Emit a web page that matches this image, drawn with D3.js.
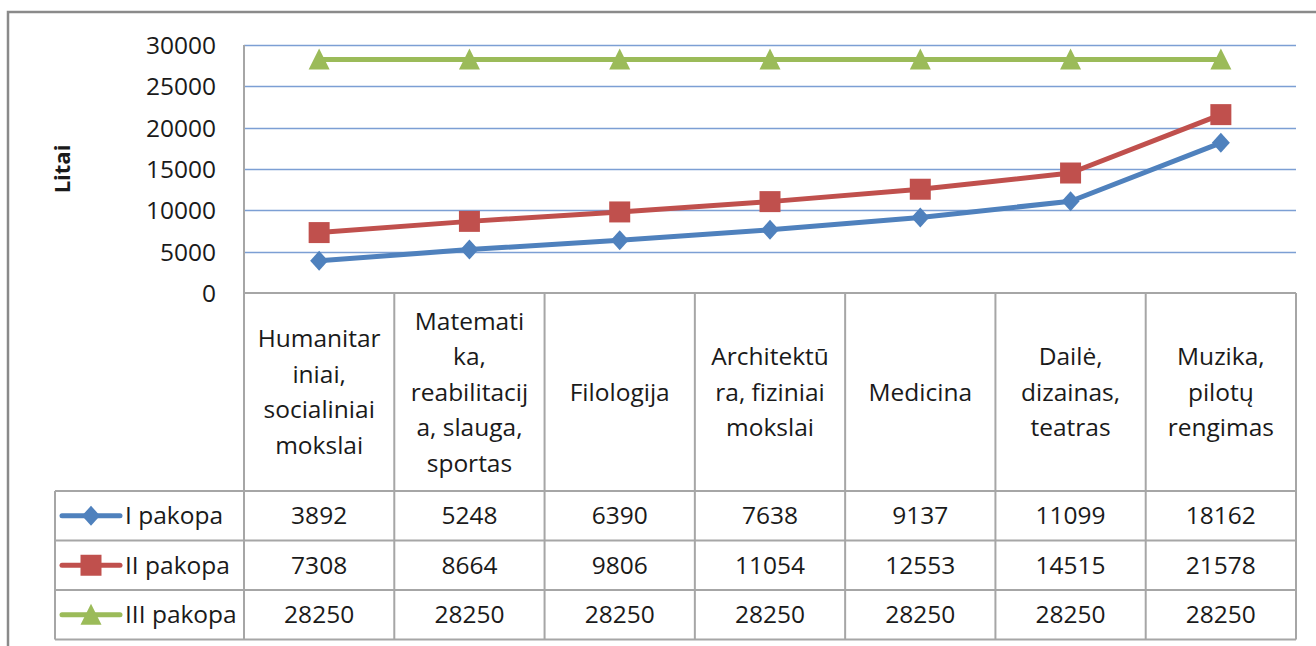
<!DOCTYPE html>
<html lang="lt">
<head>
<meta charset="UTF-8">
<title>Litai pagal pakopas</title>
<script src="https://d3js.org/d3.v7.min.js"></script>
<style>
  body { margin: 0; background: #fff; }
  svg text { font-family: "Open Sans", "Noto Sans", sans-serif; fill: #1a1a1a; }
</style>
</head>
<body>
<div id="chart"></div>
<script>
// data
const categories = [
  ["Humanitar", "iniai,", "socialiniai", "mokslai"],
  ["Matemati", "ka,", "reabilitacij", "a, slauga,", "sportas"],
  ["Filologija"],
  ["Architektū", "ra, fiziniai", "mokslai"],
  ["Medicina"],
  ["Dailė,", "dizainas,", "teatras"],
  ["Muzika,", "pilotų", "rengimas"]
];
const seriesNames = ["I pakopa", "II pakopa", "III pakopa"];
const pakopa1 = [3892, 5248, 6390, 7638, 9137, 11099, 18162];
const pakopa2 = [7308, 8664, 9806, 11054, 12553, 14515, 21578];
const pakopa3 = [28250, 28250, 28250, 28250, 28250, 28250, 28250];
const yTicks = [0, 5000, 10000, 15000, 20000, 25000, 30000];

// marker shapes (Excel style)
const markers = {
  diamond: "M0,-10L9,0L0,10L-9,0Z",
  square: "M-10.5,-10.5H10.5V10.5H-10.5Z",
  triangle: "M0,-11L10.5,10H-10.5Z"
};
const seriesColors = ["#4f81bd", "#c0504d", "#9bbb59"];
const seriesShapes = ["diamond", "square", "triangle"];
const series = [pakopa1, pakopa2, pakopa3].map((v, i) => ({
  name: seriesNames[i], values: v, color: seriesColors[i], shape: markers[seriesShapes[i]]
}));

const W = 1316, H = 646;
const plot = {left: 244, right: 1296, top: 45, bottom: 293};
const headerBottom = 491;
const rowH = 49.5;
const legendLeft = 55;
const fs = 24.5;

const svg = d3.select("#chart").append("svg")
  .attr("width", W).attr("height", H);

// outer chart border
svg.append("path")
  .attr("d", `M8,${H + 5} L8,12 L${W + 5},12`)
  .attr("fill", "none").attr("stroke", "#8a8a8a").attr("stroke-width", 2.5);

const x = d3.scaleBand().domain(d3.range(categories.length))
  .range([plot.left, plot.right]);
const y = d3.scaleLinear().domain([0, 30000]).range([plot.bottom, plot.top]);

// gridlines
svg.append("g").selectAll("line").data(yTicks.filter(d => d > 0)).join("line")
  .attr("x1", plot.left).attr("x2", plot.right)
  .attr("y1", d => Math.round(y(d)) + 0.5).attr("y2", d => Math.round(y(d)) + 0.5)
  .attr("stroke", "#7c9fd4").attr("stroke-width", 1.5);

// y axis
const yAxis = svg.append("g")
  .attr("transform", `translate(${plot.left},0)`)
  .call(d3.axisLeft(y).tickValues(yTicks).tickSize(0).tickPadding(28).tickFormat(d3.format("d")));
yAxis.select(".domain").remove();
yAxis.selectAll("text")
  .style("font-size", fs + "px").attr("dy", "0.35em");

svg.append("text")
  .attr("transform", `translate(70,169) rotate(-90)`)
  .attr("text-anchor", "middle")
  .style("font-size", "22px").style("font-weight", "bold")
  .text("Litai");

// data table grid
const gridColor = "#a6a6a6";
const tableBottom = headerBottom + rowH * 3;
const tbl = svg.append("g").attr("stroke", gridColor).attr("stroke-width", 2);
// axis line / left edge of categories
tbl.append("line").attr("x1", plot.left).attr("x2", plot.left)
  .attr("y1", plot.top).attr("y2", tableBottom);
tbl.selectAll(".vl").data(d3.range(1, categories.length + 1)).join("line")
  .attr("class", "vl")
  .attr("x1", i => x(i - 1) + x.bandwidth()).attr("x2", i => x(i - 1) + x.bandwidth())
  .attr("y1", plot.bottom).attr("y2", tableBottom);
tbl.append("line").attr("x1", plot.left).attr("x2", plot.right)
  .attr("y1", plot.bottom).attr("y2", plot.bottom);
tbl.selectAll(".hl").data(d3.range(4)).join("line")
  .attr("class", "hl")
  .attr("x1", legendLeft).attr("x2", plot.right)
  .attr("y1", i => headerBottom + i * rowH).attr("y2", i => headerBottom + i * rowH);
tbl.append("line").attr("x1", legendLeft).attr("x2", legendLeft)
  .attr("y1", headerBottom).attr("y2", tableBottom);

// category labels
const lineH = 35.5;
const headerMid = (plot.bottom + headerBottom) / 2;
svg.append("g").selectAll("text").data(categories).join("text")
  .attr("text-anchor", "middle")
  .style("font-size", fs + "px")
  .attr("transform", (d, i) => `translate(${x(i) + x.bandwidth() / 2},${headerMid - (d.length - 1) * lineH / 2})`)
  .each(function(d) {
    d3.select(this).selectAll("tspan").data(d).join("tspan")
      .attr("x", 0).attr("y", (t, j) => j * lineH).attr("dy", "0.35em")
      .text(t => t);
  });

// lines and markers
const line = d3.line().x((d, i) => x(i) + x.bandwidth() / 2).y(d => y(d));
series.forEach(s => {
  svg.append("path").datum(s.values)
    .attr("d", line).attr("fill", "none")
    .attr("stroke", s.color).attr("stroke-width", 5).attr("stroke-linejoin", "round");
  svg.append("g").selectAll("path").data(s.values).join("path")
    .attr("transform", (d, i) => `translate(${x(i) + x.bandwidth() / 2},${y(d)})`)
    .attr("d", s.shape)
    .attr("fill", s.color);
});

// table rows: legend + values
series.forEach((s, r) => {
  const cy = headerBottom + r * rowH + rowH / 2;
  const g = svg.append("g");
  g.append("line").attr("x1", 62).attr("x2", 120).attr("y1", cy).attr("y2", cy)
    .attr("stroke", s.color).attr("stroke-width", 5).attr("stroke-linecap", "round");
  g.append("path").attr("transform", `translate(91,${cy})`)
    .attr("d", s.shape)
    .attr("fill", s.color);
  g.append("text").attr("x", 125).attr("y", cy).attr("dy", "0.35em")
    .style("font-size", fs + "px").text(s.name);
  g.selectAll(".v").data(s.values).join("text")
    .attr("class", "v")
    .attr("x", (d, i) => x(i) + x.bandwidth() / 2).attr("y", cy).attr("dy", "0.35em")
    .attr("text-anchor", "middle").style("font-size", fs + "px")
    .text(d => d);
});
</script>
</body>
</html>
